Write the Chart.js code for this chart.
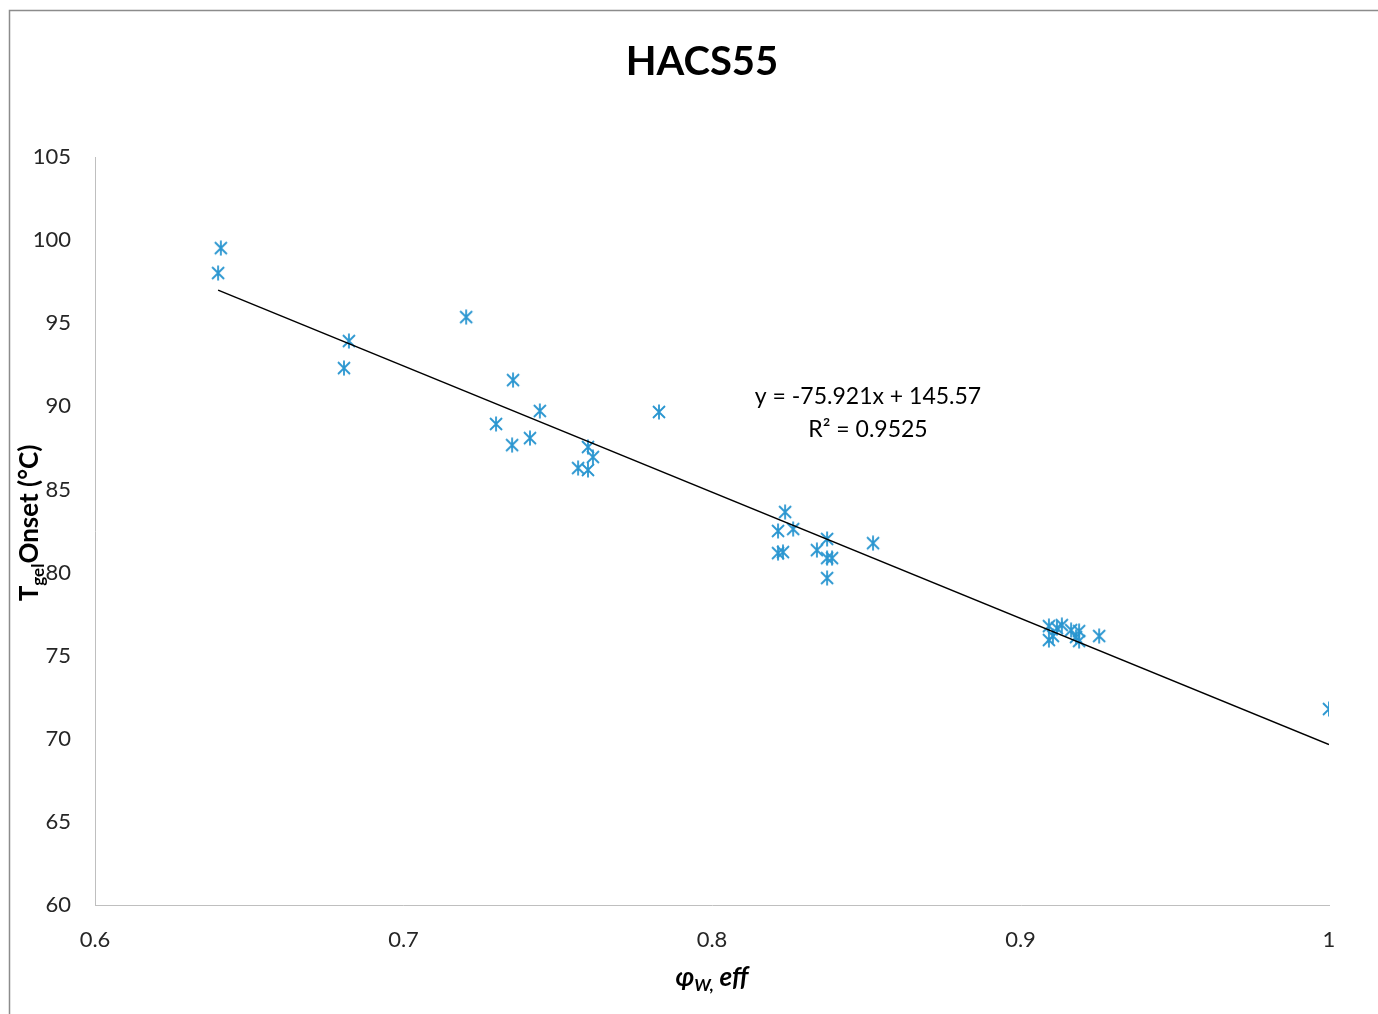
<!DOCTYPE html>
<html>
<head>
<meta charset="utf-8">
<title>HACS55</title>
<script src="https://cdn.jsdelivr.net/npm/chart.js@4.4.1/dist/chart.umd.min.js"></script>
<style>
  html, body { margin: 0; padding: 0; background: #fff; }
  #wrap { position: absolute; left: 0; top: 0; width: 1378px; height: 1014px; }
</style>
</head>
<body>
<div id="wrap"><canvas id="chart" width="1378" height="1014"></canvas></div>
<script>
// effective water volume fraction (x) and gelatinisation onset temperature (y)
const phiEff = [
  0.6408, 0.6399, 0.6823, 0.6807, 0.7203, 0.7355, 0.7442, 0.7300, 0.7352, 0.7410,
  0.7828, 0.7598, 0.7614, 0.7566, 0.7598, 0.8237, 0.8214, 0.8263, 0.8214, 0.8230,
  0.8340, 0.8373, 0.8373, 0.8389, 0.8373, 0.8522, 0.9092, 0.9092, 0.9105, 0.9118,
  0.9134, 0.9164, 0.9190, 0.9180, 0.9190, 0.9255, 1.0
];
const tOnset = [
  99.52, 98.02, 93.93, 92.30, 95.37, 91.58, 89.72, 88.94, 87.67, 88.09,
  89.66, 87.55, 86.95, 86.29, 86.17, 83.64, 82.50, 82.62, 81.17, 81.23,
  81.35, 82.02, 80.87, 80.87, 79.67, 81.77, 76.78, 75.94, 76.18, 76.66,
  76.84, 76.54, 76.48, 76.12, 75.88, 76.18, 71.79
];
const xTicks = [0.6, 0.7, 0.8, 0.9, 1];
const yTicks = [60, 65, 70, 75, 80, 85, 90, 95, 100, 105];

// linear trendline as reported on the chart
const slope = -75.921;
const intercept = 145.57;
const rSquared = 0.9525;

const FONT = 'Lato, "Open Sans", sans-serif';
const BLUE = '#2a96d0';

// Excel style "star" marker: X with a vertical bar
function makeMarker() {
  const c = document.createElement('canvas');
  c.width = 16; c.height = 16;
  const g = c.getContext('2d');
  g.strokeStyle = BLUE;
  g.lineWidth = 1.8;
  g.beginPath();
  g.moveTo(2, 2); g.lineTo(14, 14);
  g.moveTo(14, 2); g.lineTo(2, 14);
  g.moveTo(8, 0.5); g.lineTo(8, 15.5);
  g.stroke();
  return c;
}

const points = phiEff.map((x, i) => ({ x: x, y: tOnset[i] }));
const xMin = Math.min(...phiEff);
const xMax = Math.max(...phiEff);
const trend = [
  { x: xMin, y: slope * xMin + intercept },
  { x: xMax, y: slope * xMax + intercept }
];

const decorations = {
  id: 'decorations',
  afterDraw(chart) {
    const ctx = chart.ctx;
    const area = chart.chartArea;
    ctx.save();

    // outer chart frame (only top/left visible)
    ctx.strokeStyle = '#8c8c8c';
    ctx.lineWidth = 1.5;
    ctx.beginPath();
    ctx.moveTo(9.5, 1014);
    ctx.lineTo(9.5, 10.5);
    ctx.lineTo(1378, 10.5);
    ctx.stroke();

    // title
    ctx.fillStyle = '#000';
    ctx.textAlign = 'center';
    ctx.textBaseline = 'alphabetic';
    ctx.font = 'bold 40px ' + FONT;
    ctx.fillText('HACS55', 702, 75);

    // trendline equation
    ctx.font = '23px ' + FONT;
    const sign = intercept >= 0 ? '+' : '-';
    ctx.fillText('y = ' + slope.toFixed(3) + 'x ' + sign + ' ' + Math.abs(intercept).toFixed(2), 868, 404);
    ctx.fillText('R\u00B2 = ' + rSquared.toFixed(4), 868, 437);

    // y axis title with subscript
    ctx.translate(38, 0);
    ctx.rotate(-Math.PI / 2);
    const big = 'bold 26px ' + FONT;
    const small = 'bold 17px ' + FONT;
    ctx.font = big; const wT = ctx.measureText('T').width;
    ctx.font = small; const wG = ctx.measureText('gel').width;
    ctx.font = big; const wO = ctx.measureText('Onset (\u00B0C)').width;
    let sx = -(523) - (wT + wG + wO) / 2;
    ctx.textAlign = 'left';
    ctx.font = big; ctx.fillText('T', sx, 0); sx += wT;
    ctx.font = small; ctx.fillText('gel', sx, 6); sx += wG;
    ctx.font = big; ctx.fillText('Onset (\u00B0C)', sx, 0);
    ctx.setTransform(1, 0, 0, 1, 0, 0);

    // x axis title: phi_W, eff
    const bi = 'italic bold 26px ' + FONT;
    const bs = 'italic bold 17px ' + FONT;
    ctx.font = bi; const wP = ctx.measureText('\u03C6').width;
    ctx.font = bs; const wW = ctx.measureText('W,').width;
    ctx.font = bi; const wE = ctx.measureText(' eff').width;
    let tx = (area.left + area.right) / 2 - (wP + wW + wE) / 2;
    const ty = 986;
    ctx.textAlign = 'left';
    ctx.font = bi; ctx.fillText('\u03C6', tx, ty); tx += wP;
    ctx.font = bs; ctx.fillText('W,', tx, ty + 5); tx += wW;
    ctx.font = bi; ctx.fillText(' eff', tx, ty);

    ctx.restore();
  }
};

new Chart(document.getElementById('chart'), {
  type: 'scatter',
  data: {
    datasets: [
      {
        label: 'HACS55',
        data: points,
        pointStyle: makeMarker(),
        pointRadius: 8,
        pointHoverRadius: 8,
        showLine: false,
        order: 2
      },
      {
        label: 'Linear trend',
        type: 'line',
        data: trend,
        borderColor: '#000',
        borderWidth: 1.5,
        pointRadius: 0,
        fill: false,
        order: 1
      }
    ]
  },
  options: {
    responsive: false,
    animation: false,
    layout: { padding: { left: 10, right: 49, top: 157, bottom: 10 } },
    plugins: {
      legend: { display: false },
      title: { display: false },
      tooltip: { enabled: false }
    },
    scales: {
      x: {
        type: 'linear',
        min: xTicks[0],
        max: xTicks[xTicks.length - 1],
        afterFit: (s) => { s.height = 99; },
        afterBuildTicks: (s) => { s.ticks = xTicks.map(v => ({ value: v })); },
        grid: { display: false, drawTicks: false },
        border: { display: true, color: '#bfbfbf', width: 1 },
        ticks: {
          padding: 22,
          color: '#262626',
          font: { family: FONT, size: 22 },
          callback: (v) => String(v)
        }
      },
      y: {
        type: 'linear',
        min: yTicks[0],
        max: yTicks[yTicks.length - 1],
        afterFit: (s) => { s.width = 85; },
        afterBuildTicks: (s) => { s.ticks = yTicks.map(v => ({ value: v })); },
        grid: { display: false, drawTicks: false },
        border: { display: true, color: '#bfbfbf', width: 1 },
        ticks: {
          padding: 24,
          color: '#262626',
          font: { family: FONT, size: 22 },
          callback: (v) => String(v)
        }
      }
    }
  },
  plugins: [decorations]
});
</script>
</body>
</html>
